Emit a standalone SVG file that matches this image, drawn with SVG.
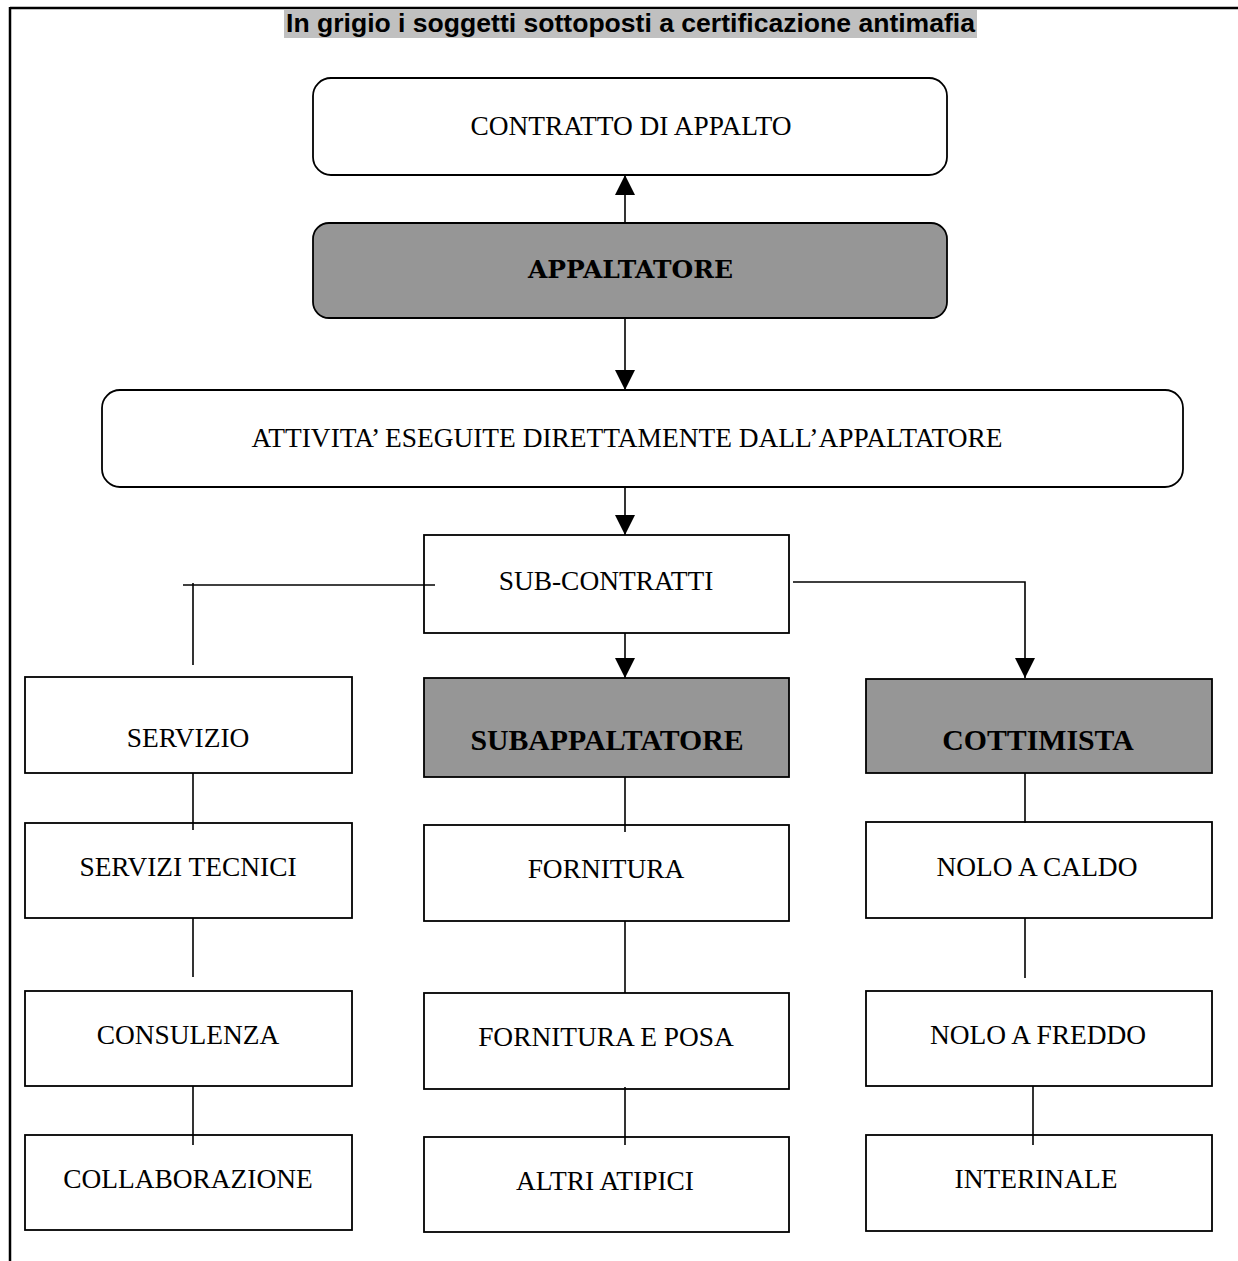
<svg xmlns="http://www.w3.org/2000/svg" width="1238" height="1261" viewBox="0 0 1238 1261">
<style>
.box{fill:#fff;stroke:#000;stroke-width:1.8}
.grey{fill:#969696;stroke:#000;stroke-width:1.8}
.t{font-family:"Liberation Serif","Times New Roman",serif;font-size:27.4px;text-anchor:middle;fill:#000}
.b{font-family:"Liberation Serif","Times New Roman",serif;font-size:29.8px;font-weight:bold;text-anchor:middle;fill:#000}
.ln{stroke:#000;stroke-width:1.6;fill:none}
</style>
<defs>
<marker id="ah" viewBox="0 0 20 20" refX="20" refY="10" markerWidth="20" markerHeight="20" markerUnits="userSpaceOnUse" orient="auto">
<path d="M0,0 L20,10 L0,20 Z" fill="#000"/>
</marker>
</defs>
<g id="frame">
<line x1="10" y1="8" x2="1238" y2="8" stroke="#000" stroke-width="2.5"/>
<line x1="10" y1="7" x2="10" y2="1261" stroke="#000" stroke-width="2.5"/>
</g>
<g id="title">
<rect x="284" y="9" width="693" height="29" fill="#c0c0c0"/>
<text x="630.5" y="32" font-family="'Liberation Sans',Arial,sans-serif" font-weight="bold" font-size="26" text-anchor="middle" textLength="689" lengthAdjust="spacingAndGlyphs">In grigio i soggetti sottoposti a certificazione antimafia</text>
</g>
<g id="contratto">
<rect class="box" x="313" y="78" width="634" height="97" rx="18"/>
<text class="t" x="631" y="135">CONTRATTO DI APPALTO</text>
</g>
<g id="appaltatore">
<rect class="grey" x="313" y="223" width="634" height="95" rx="16"/>
<text x="630.5" y="278" font-family="'DejaVu Serif',serif" font-weight="bold" font-size="24" text-anchor="middle" textLength="205" lengthAdjust="spacingAndGlyphs">APPALTATORE</text>
</g>
<g id="attivita">
<rect class="box" x="102" y="390" width="1081" height="97" rx="18"/>
<text class="t" x="627" y="447">ATTIVITA’ ESEGUITE DIRETTAMENTE DALL’APPALTATORE</text>
</g>
<g id="subcontratti">
<rect class="box" x="424" y="535" width="365" height="98"/>
<text class="t" x="606" y="590">SUB-CONTRATTI</text>
</g>
<g id="servizio">
<rect class="box" x="25" y="677" width="327" height="96"/>
<text class="t" x="188" y="747">SERVIZIO</text>
</g>
<g id="subappaltatore">
<rect class="grey" x="424" y="678" width="365" height="99"/>
<text class="b" x="607" y="750">SUBAPPALTATORE</text>
</g>
<g id="cottimista">
<rect class="grey" x="866" y="679" width="346" height="94"/>
<text class="b" x="1038" y="750">COTTIMISTA</text>
</g>
<g id="servizitecnici">
<rect class="box" x="25" y="823" width="327" height="95"/>
<text class="t" x="188" y="876">SERVIZI TECNICI</text>
</g>
<g id="fornitura">
<rect class="box" x="424" y="825" width="365" height="96"/>
<text class="t" x="606" y="878">FORNITURA</text>
</g>
<g id="nolocaldo">
<rect class="box" x="866" y="822" width="346" height="96"/>
<text class="t" x="1037" y="876">NOLO A CALDO</text>
</g>
<g id="consulenza">
<rect class="box" x="25" y="991" width="327" height="95"/>
<text class="t" x="188" y="1044">CONSULENZA</text>
</g>
<g id="fornituraposa">
<rect class="box" x="424" y="993" width="365" height="96"/>
<text class="t" x="606" y="1046">FORNITURA E POSA</text>
</g>
<g id="nolofreddo">
<rect class="box" x="866" y="991" width="346" height="95"/>
<text class="t" x="1038" y="1044">NOLO A FREDDO</text>
</g>
<g id="collaborazione">
<rect class="box" x="25" y="1135" width="327" height="95"/>
<text class="t" x="188" y="1188">COLLABORAZIONE</text>
</g>
<g id="altriatipici">
<rect class="box" x="424" y="1137" width="365" height="95"/>
<text class="t" x="605" y="1190">ALTRI ATIPICI</text>
</g>
<g id="interinale">
<rect class="box" x="866" y="1135" width="346" height="96"/>
<text class="t" x="1036" y="1188">INTERINALE</text>
</g>
<g id="connectors">
<line class="ln" x1="625" y1="223" x2="625" y2="175" marker-end="url(#ah)"/>
<line class="ln" x1="625" y1="318" x2="625" y2="390" marker-end="url(#ah)"/>
<line class="ln" x1="625" y1="487" x2="625" y2="535" marker-end="url(#ah)"/>
<line class="ln" x1="625" y1="633" x2="625" y2="678" marker-end="url(#ah)"/>
<polyline class="ln" points="793,582 1025,582 1025,678" marker-end="url(#ah)"/>
<line class="ln" x1="183" y1="585" x2="435" y2="585"/>
<line class="ln" x1="193" y1="583" x2="193" y2="665"/>
<line class="ln" x1="193" y1="773" x2="193" y2="830"/>
<line class="ln" x1="193" y1="918" x2="193" y2="977"/>
<line class="ln" x1="193" y1="1086" x2="193" y2="1145"/>
<line class="ln" x1="625" y1="777" x2="625" y2="832"/>
<line class="ln" x1="625" y1="921" x2="625" y2="993"/>
<line class="ln" x1="625" y1="1087" x2="625" y2="1145"/>
<line class="ln" x1="1025" y1="773" x2="1025" y2="823"/>
<line class="ln" x1="1025" y1="918" x2="1025" y2="978"/>
<line class="ln" x1="1033" y1="1086" x2="1033" y2="1145"/>
</g>
</svg>
